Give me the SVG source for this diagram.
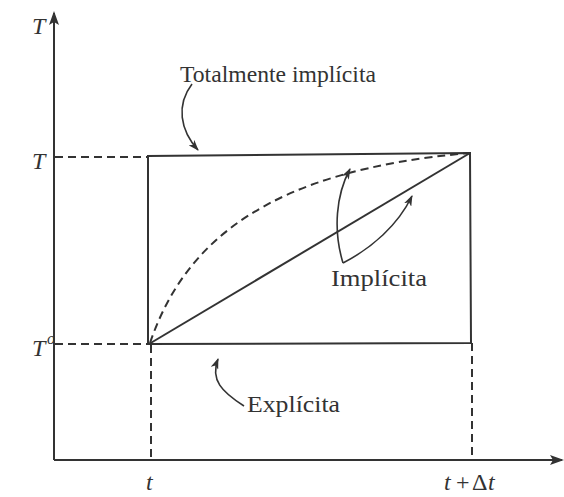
<svg xmlns="http://www.w3.org/2000/svg" width="564" height="497" viewBox="0 0 564 497">
<style>
.ax{stroke:#333;stroke-width:2;fill:none}
.ln{stroke:#333;stroke-width:2;fill:none}
.ds{stroke:#333;stroke-width:2;fill:none;stroke-dasharray:8 5}
.ar{stroke:#333;stroke-width:1.6;fill:none;marker-end:url(#ah)}
.lb{font-family:"Liberation Serif","Times New Roman",serif;font-size:24px;fill:#333}
.it{font-family:"Liberation Serif","Times New Roman",serif;font-size:24px;font-style:italic;fill:#333}
</style>
<defs>
<marker id="ah" markerWidth="12" markerHeight="8" refX="10" refY="4" orient="auto" markerUnits="userSpaceOnUse">
<path d="M0,0 L11,4 L0,8 L3,4 Z" fill="#333"/>
</marker>
<marker id="axh" markerWidth="14" markerHeight="10" refX="12" refY="5" orient="auto" markerUnits="userSpaceOnUse">
<path d="M0,0 L14,5 L0,10 L3,5 Z" fill="#333"/>
</marker>
</defs>
<rect width="564" height="497" fill="#fff"/>
<g id="axes">
<line class="ax" x1="54" y1="460" x2="54" y2="13" marker-end="url(#axh)"/>
<line class="ax" x1="54" y1="460" x2="562" y2="460" marker-end="url(#axh)"/>
</g>
<g id="guides">
<line class="ds" x1="55" y1="157" x2="147" y2="157"/>
<line class="ds" x1="55" y1="344" x2="148" y2="344"/>
<line class="ds" x1="151" y1="345" x2="151" y2="459"/>
<line class="ds" x1="472" y1="343" x2="472" y2="459"/>
</g>
<g id="box">
<path class="ln" d="M148,344 L148,156 L470,153 L471,343 Z"/>
</g>
<g id="curves">
<line class="ln" x1="149" y1="344" x2="470" y2="153"/>
<path class="ds" d="M150,343 C185,240 270,170 470,153"/>
</g>
<g id="connectors">
<path class="ar" d="M192,84 C176,105 180,130 198,150"/>
<path class="ar" d="M343,263 C333,230 336,195 350,169"/>
<path class="ar" d="M343,263 C372,248 398,225 412,196"/>
<path class="ar" d="M244,406 C222,392 210,380 218,359"/>
</g>
<g id="labels">
<text class="it" x="32" y="34">T</text>
<text class="it" x="32" y="169">T</text>
<text class="it" x="32" y="356">T</text>
<text class="it" x="47" y="344" style="font-size:16px">o</text>
<text class="it" x="146" y="490">t</text>
<text class="it" x="444" y="490">t</text>
<text class="lb" x="456" y="490">+</text>
<text class="lb" x="472" y="490">Δ</text>
<text class="it" x="488" y="490">t</text>
<text class="lb" x="180" y="82" textLength="196" lengthAdjust="spacingAndGlyphs">Totalmente implícita</text>
<text class="lb" x="331" y="286" textLength="96" lengthAdjust="spacingAndGlyphs">Implícita</text>
<text class="lb" x="247" y="412" textLength="93" lengthAdjust="spacingAndGlyphs">Explícita</text>
</g>
</svg>
